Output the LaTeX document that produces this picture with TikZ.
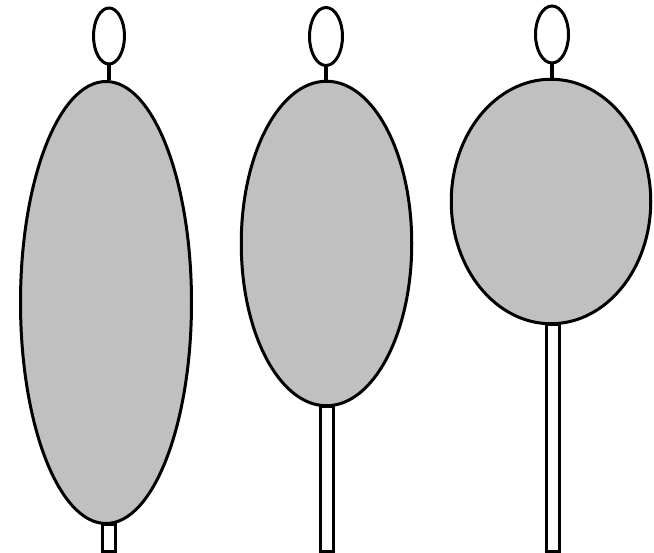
\documentclass[tikz,border=0pt]{standalone}
\usetikzlibrary{shapes.geometric}
\definecolor{bodygray}{RGB}{192,192,192}
\begin{document}
\begin{tikzpicture}[x=1pt,y=-1pt,
  outline/.style={draw=black, line width=3pt},
  head/.style={outline, ellipse, fill=white, inner sep=0pt},
  body/.style={outline, ellipse, fill=bodygray, inner sep=0pt},
  stick/.style={outline, rectangle, fill=white, inner sep=0pt, minimum width=13pt, anchor=north},
  stem/.style={draw=black, line width=3.4pt}]
\useasboundingbox (0,0) rectangle (654,553);
% sticks (behind bodies)
\node[stick, minimum height=27pt] (s1) at (108.5,523) {};
\node[stick, minimum height=145pt] (s2) at (327,405) {};
\node[stick, minimum height=227pt] (s3) at (553,323) {};
% bodies
\node[body, minimum width=171pt, minimum height=442pt] (b1) at (106,302.5) {};
\node[body, minimum width=170.5pt, minimum height=324.5pt] (b2) at (326.5,243.5) {};
\node[body, minimum width=199.5pt, minimum height=244.5pt] (b3) at (551,201.5) {};
% heads
\node[head, minimum width=31pt, minimum height=56pt] (h1) at (109,36) {};
\node[head, minimum width=33pt, minimum height=58pt] (h2) at (326,36.5) {};
\node[head, minimum width=33pt, minimum height=57pt] (h3) at (552,34.5) {};
% stems
\draw[stem] (h1.south) -- (h1.south |- b1.north);
\draw[stem] (h2.south) -- (h2.south |- b2.north);
\draw[stem] (h3.south) -- (h3.south |- b3.north);
\end{tikzpicture}
\end{document}
